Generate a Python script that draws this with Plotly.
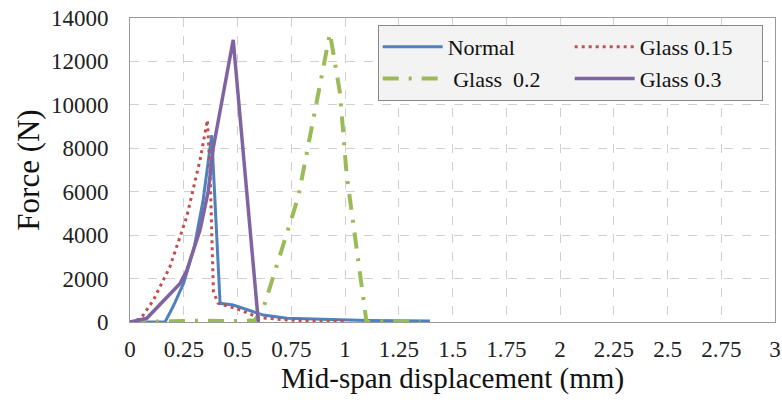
import plotly.graph_objects as go

normal_x = [0.0, 0.163, 0.20, 0.25, 0.30, 0.34, 0.38, 0.419, 0.48, 0.62, 0.73, 0.9, 1.1, 1.395]
normal_y = [0, 0, 700, 1800, 3500, 5600, 8600, 860, 780, 320, 170, 110, 70, 50]

g015_x = [0.0, 0.05, 0.109, 0.186, 0.264, 0.326, 0.36, 0.372, 0.388, 0.41, 0.5, 0.6, 0.75, 1.0]
g015_y = [0, 150, 1010, 2550, 4850, 7470, 9300, 7000, 1400, 860, 600, 200, 80, 30]

g02_x = [0.0, 0.3, 0.5, 0.58, 0.62, 0.783, 0.93, 0.977, 1.007, 1.04, 1.093, 1.1, 1.2, 1.35]
g02_y = [0, 60, 40, 80, 630, 5770, 13300, 10530, 6850, 4400, 250, 0, 30, 20]

g03_x = [0.0, 0.078, 0.233, 0.264, 0.326, 0.364, 0.387, 0.48, 0.597]
g03_y = [0, 170, 1780, 2370, 4250, 6020, 8000, 12990, 0]

x_ticks = [0, 0.25, 0.5, 0.75, 1, 1.25, 1.5, 1.75, 2, 2.25, 2.5, 2.75, 3]
x_tick_labels = ["0", "0.25", "0.5", "0.75", "1", "1.25", "1.5", "1.75", "2", "2.25", "2.5", "2.75", "3"]
y_ticks = [0, 2000, 4000, 6000, 8000, 10000, 12000, 14000]
y_tick_labels = [str(v) for v in y_ticks]

serif = "Liberation Serif, serif"

fig = go.Figure()
fig.add_trace(go.Scatter(x=normal_x, y=normal_y, mode="lines", name="Normal", legendgroup="c1",
                         line=dict(color="#4F81BD", width=3)))
fig.add_trace(go.Scatter(x=g015_x, y=g015_y, mode="lines", name="Glass 0.15", legendgroup="c2",
                         line=dict(color="#C0504D", width=3, dash="3px,4px")))
fig.add_trace(go.Scatter(x=g02_x, y=g02_y, mode="lines", name=" Glass  0.2", legendgroup="c1",
                         line=dict(color="#9BBB59", width=4, dash="16px,10px,3px,10px")))
fig.add_trace(go.Scatter(x=g03_x, y=g03_y, mode="lines", name="Glass 0.3", legendgroup="c2",
                         line=dict(color="#8064A2", width=3.5)))

fig.update_layout(
    template="none",
    width=782, height=404,
    margin=dict(l=130, r=7, t=18, b=82),
    paper_bgcolor="white", plot_bgcolor="white",
    font=dict(family=serif, color="#222222", size=23),
    showlegend=True,
    legend=dict(
        orientation="h", x=0.384, y=0.977, xanchor="left", yanchor="top",
        traceorder="grouped", tracegroupgap=0, itemwidth=60,
        entrywidth=117, entrywidthmode="pixels",
        bgcolor="#f3f3f3", bordercolor="#888888", borderwidth=1,
        font=dict(family=serif, size=22, color="#111111"),
        groupclick="toggleitem",
    ),
    xaxis=dict(
        range=[0, 3], tickvals=x_ticks, ticktext=x_tick_labels,
        showgrid=True, gridcolor="#d0d0d0", griddash="dash", gridwidth=1,
        zeroline=False, showline=True, linecolor="#999999", mirror=True,
        ticks="outside", ticklen=6, tickcolor="rgba(0,0,0,0)",
        tickfont=dict(family=serif, size=23, color="#222222"),
        title=dict(text="Mid-span displacement (mm)", font=dict(family=serif, size=29, color="#111111"), standoff=7),
    ),
    yaxis=dict(
        range=[0, 14000], tickvals=y_ticks, ticktext=y_tick_labels,
        showgrid=True, gridcolor="#d0d0d0", griddash="dash", gridwidth=1,
        zeroline=False, showline=True, linecolor="#999999", mirror=True,
        ticks="outside", ticklen=16, tickcolor="rgba(0,0,0,0)",
        tickfont=dict(family=serif, size=23, color="#222222"),
        title=dict(text="Force (N)", font=dict(family=serif, size=31, color="#111111"), standoff=2),
    ),
)

fig.write_html("out.html")
